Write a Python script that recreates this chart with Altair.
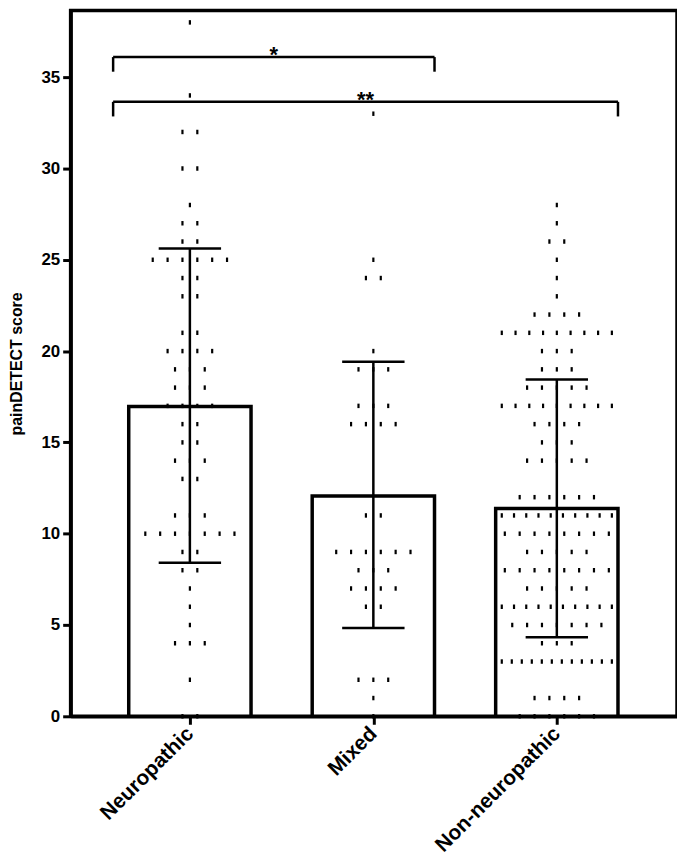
import altair as alt
import pandas as pd

# ---- values ----
GROUPS = ["Neuropathic", "Mixed", "Non-neuropathic"]
MEANS = [16.97, 12.07, 11.38]
ERR_LOW = [8.41, 4.84, 4.33]
ERR_HIGH = [25.62, 19.42, 18.45]

NEURO_SCORES = [38, 34, 32, 30, 28, 27, 26, 25, 24, 23, 21, 20, 19, 18, 17, 16, 15, 14, 13, 11, 10, 9, 8, 7, 6, 5, 4, 2, 0]
NEURO_COUNTS = [1, 1, 2, 2, 1, 2, 2, 6, 2, 2, 2, 4, 3, 3, 4, 2, 2, 3, 2, 3, 7, 2, 2, 1, 1, 1, 3, 1, 2]
MIXED_SCORES = [33, 25, 24, 20, 19, 17, 16, 11, 9, 8, 7, 6, 2, 1, 0]
MIXED_COUNTS = [1, 1, 2, 1, 3, 3, 4, 2, 6, 3, 4, 2, 3, 1, 1]
NON_SCORES = [28, 27, 26, 25, 24, 23, 22, 21, 20, 19, 18, 17, 16, 15, 14, 12, 11, 10, 9, 8, 7, 6, 5, 4, 3, 1, 0]
NON_COUNTS = [1, 1, 2, 1, 1, 1, 4, 9, 3, 3, 5, 9, 4, 3, 5, 6, 10, 8, 5, 8, 5, 10, 7, 3, 12, 4, 6]

BRACKET_FROM = [0, 0]
BRACKET_TO = [1, 2]
BRACKET_LEVEL = [36.1, 33.65]
BRACKET_LABEL = ["*", "**"]

Y_TICKS = [0, 5, 10, 15, 20, 25, 30, 35]
Y_MAX = 38.65

# ---- layout constants (category units) ----
HALF_BAR = 1 / 3
DOT_STEP = 0.081
MAX_SPREAD = 0.6
CAP_HALF = 0.17
BRACKET_EXTRA = 0.085
LEG = 0.8

# ---- build tables ----
bars_df = pd.DataFrame({
    "group": GROUPS,
    "pos": [0, 1, 2],
    "mean": MEANS,
    "low": ERR_LOW,
    "high": ERR_HIGH,
})
bars_df["x1"] = bars_df["pos"] - HALF_BAR
bars_df["x2"] = bars_df["pos"] + HALF_BAR
bars_df["c1"] = bars_df["pos"] - CAP_HALF
bars_df["c2"] = bars_df["pos"] + CAP_HALF
bars_df["zero"] = 0

rows = []
for gi, (scores, counts) in enumerate([(NEURO_SCORES, NEURO_COUNTS),
                                       (MIXED_SCORES, MIXED_COUNTS),
                                       (NON_SCORES, NON_COUNTS)]):
    for s, c in zip(scores, counts):
        step = DOT_STEP if c <= 1 else min(DOT_STEP, MAX_SPREAD / (c - 1))
        for i in range(c):
            rows.append({"group": GROUPS[gi], "x": gi + (i - (c - 1) / 2) * step, "score": s})
dots_df = pd.DataFrame(rows)

br_df = pd.DataFrame({
    "left": [f - HALF_BAR - BRACKET_EXTRA for f in BRACKET_FROM],
    "right": [t + HALF_BAR for t in BRACKET_TO],
    "level": BRACKET_LEVEL,
    "label": BRACKET_LABEL,
})
br_df["foot"] = br_df["level"] - LEG
br_df["mid"] = (br_df["left"] + br_df["right"]) / 2

# ---- scales / axes ----
xs = alt.Scale(domain=[-0.65, 2.655], nice=False, zero=False)
ys = alt.Scale(domain=[0, Y_MAX], nice=False)
label_js = "['Neuropathic','Mixed','Non-neuropathic'][datum.value]"
xaxis = alt.Axis(values=[0, 1, 2], labelExpr=label_js, title=None, labelAngle=-45,
                 labelAlign="right", labelBaseline="middle",
                 labelFontSize=21, labelPadding=6, grid=False, labelOverlap=False)
yaxis = alt.Axis(values=Y_TICKS, title="painDETECT score", labelFontSize=17,
                 titleFontSize=16, titlePadding=17, labelPadding=3, grid=False)

bars = alt.Chart(bars_df).mark_bar(fill="white", stroke="black", strokeWidth=3.5).encode(
    x=alt.X("x1:Q", scale=xs, axis=xaxis),
    x2="x2:Q",
    y=alt.Y("mean:Q", scale=ys, axis=yaxis),
    y2="zero:Q",
)

dots = alt.Chart(dots_df).mark_tick(orient="vertical", size=4.5, thickness=2.2, color="black", opacity=1).encode(
    x=alt.X("x:Q", scale=xs, axis=xaxis),
    y=alt.Y("score:Q", scale=ys, axis=yaxis),
)

err_v = alt.Chart(bars_df).mark_rule(color="black", strokeWidth=2.5).encode(
    x=alt.X("pos:Q", scale=xs, axis=xaxis),
    y=alt.Y("low:Q", scale=ys, axis=yaxis),
    y2="high:Q",
)
cap_hi = alt.Chart(bars_df).mark_rule(color="black", strokeWidth=2.5).encode(
    x=alt.X("c1:Q", scale=xs, axis=xaxis), x2="c2:Q",
    y=alt.Y("high:Q", scale=ys, axis=yaxis),
)
cap_lo = alt.Chart(bars_df).mark_rule(color="black", strokeWidth=2.5).encode(
    x=alt.X("c1:Q", scale=xs, axis=xaxis), x2="c2:Q",
    y=alt.Y("low:Q", scale=ys, axis=yaxis),
)

br_h = alt.Chart(br_df).mark_rule(color="black", strokeWidth=2.5).encode(
    x=alt.X("left:Q", scale=xs, axis=xaxis), x2="right:Q",
    y=alt.Y("level:Q", scale=ys, axis=yaxis),
)
br_l = alt.Chart(br_df).mark_rule(color="black", strokeWidth=2.5).encode(
    x=alt.X("left:Q", scale=xs, axis=xaxis),
    y=alt.Y("foot:Q", scale=ys, axis=yaxis), y2="level:Q",
)
br_r = alt.Chart(br_df).mark_rule(color="black", strokeWidth=2.5).encode(
    x=alt.X("right:Q", scale=xs, axis=xaxis),
    y=alt.Y("foot:Q", scale=ys, axis=yaxis), y2="level:Q",
)
br_t = alt.Chart(br_df).mark_text(font="Liberation Sans", fontWeight="bold", fontSize=22,
                                  baseline="alphabetic", dy=5, color="black").encode(
    x=alt.X("mid:Q", scale=xs, axis=xaxis),
    y=alt.Y("level:Q", scale=ys, axis=yaxis),
    text="label:N",
)

chart = alt.layer(bars, dots, err_v, cap_hi, cap_lo, br_h, br_l, br_r, br_t).properties(
    width=610, height=710,
    padding={"top": 0, "left": 0, "right": 0, "bottom": 0},
).configure_view(
    stroke="black", strokeWidth=3.5
).configure_axis(
    domainColor="black", domainWidth=3.5, tickColor="black", tickWidth=3, tickSize=8,
    labelFont="Liberation Sans", labelFontWeight="bold", labelColor="black",
    titleFont="Liberation Sans", titleFontWeight="bold", titleColor="black",
)

chart.save("out.html", embed_options={"renderer": "svg", "actions": False})
